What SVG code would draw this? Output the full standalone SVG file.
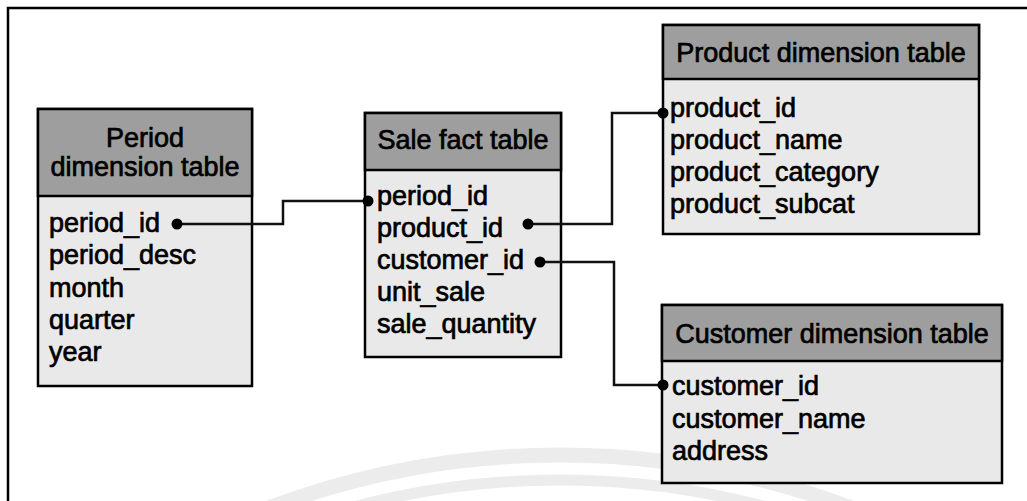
<svg xmlns="http://www.w3.org/2000/svg" width="1027" height="501" viewBox="0 0 1027 501">
  <style>
    .hdr { fill: #9e9e9e; stroke: #000; stroke-width: 2.5; }
    .body { fill: #e9e9e9; stroke: #000; stroke-width: 2.5; }
    .t { font-family: "Liberation Sans", Arial, sans-serif; font-size: 27px; fill: #000; stroke: #000; stroke-width: 0.7; }
    .c { text-anchor: middle; }
    .conn { fill: none; stroke: #111; stroke-width: 2.5; }
    .dot { fill: #000; }
    .wm { fill: none; stroke: #ececec; }
  </style>
  <rect x="0" y="0" width="1027" height="501" fill="#fff"/>
  <!-- frame -->
  <path d="M 8 501 L 8 8 L 1027 8" fill="none" stroke="#000" stroke-width="2.5"/>
  <!-- faint watermark arcs -->
  <g id="watermark">
    <circle class="wm" cx="560" cy="1282" r="827" stroke-width="15"/>
    <circle class="wm" cx="560" cy="1282" r="802" stroke-width="11"/>
  </g>

  <g id="period-table">
    <rect class="body" x="38" y="109" width="214" height="277"/>
    <rect class="hdr" x="38" y="109" width="214" height="87"/>
    <text class="t c" x="145" y="147">Period</text>
    <text class="t c" x="145" y="176">dimension table</text>
    <text class="t" x="49" y="232">period_id</text>
    <text class="t" x="49" y="264">period_desc</text>
    <text class="t" x="49" y="297">month</text>
    <text class="t" x="49" y="329">quarter</text>
    <text class="t" x="49" y="361">year</text>
  </g>

  <g id="sale-fact-table">
    <rect class="body" x="365" y="113" width="196" height="244"/>
    <rect class="hdr" x="365" y="113" width="196" height="57"/>
    <text class="t c" x="463" y="149">Sale fact table</text>
    <text class="t" x="377" y="205">period_id</text>
    <text class="t" x="377" y="237">product_id</text>
    <text class="t" x="377" y="269">customer_id</text>
    <text class="t" x="377" y="301">unit_sale</text>
    <text class="t" x="377" y="333">sale_quantity</text>
  </g>

  <g id="product-table">
    <rect class="body" x="663" y="25" width="316" height="209"/>
    <rect class="hdr" x="663" y="25" width="316" height="54"/>
    <text class="t c" x="821" y="62">Product dimension table</text>
    <text class="t" x="670" y="117">product_id</text>
    <text class="t" x="670" y="149">product_name</text>
    <text class="t" x="670" y="181">product_category</text>
    <text class="t" x="670" y="213">product_subcat</text>
  </g>

  <g id="customer-table">
    <rect class="body" x="662" y="305" width="340" height="178"/>
    <rect class="hdr" x="662" y="305" width="340" height="56"/>
    <text class="t c" x="832" y="343">Customer dimension table</text>
    <text class="t" x="672" y="395">customer_id</text>
    <text class="t" x="672" y="428">customer_name</text>
    <text class="t" x="672" y="460">address</text>
  </g>

  <g id="connectors">
    <path class="conn" d="M 177 224 H 283 V 201 H 368" stroke="#444"/>
    <circle class="dot" cx="177" cy="224" r="5.5"/>
    <circle class="dot" cx="368" cy="201" r="5.5"/>
    <path class="conn" d="M 528 224 H 612 V 113 H 663"/>
    <circle class="dot" cx="528" cy="224" r="5.5"/>
    <circle class="dot" cx="663" cy="113" r="5.5"/>
    <path class="conn" d="M 540 262 H 614 V 385 H 663"/>
    <circle class="dot" cx="540" cy="262" r="5.5"/>
    <circle class="dot" cx="663" cy="385" r="5.5"/>
  </g>
</svg>
